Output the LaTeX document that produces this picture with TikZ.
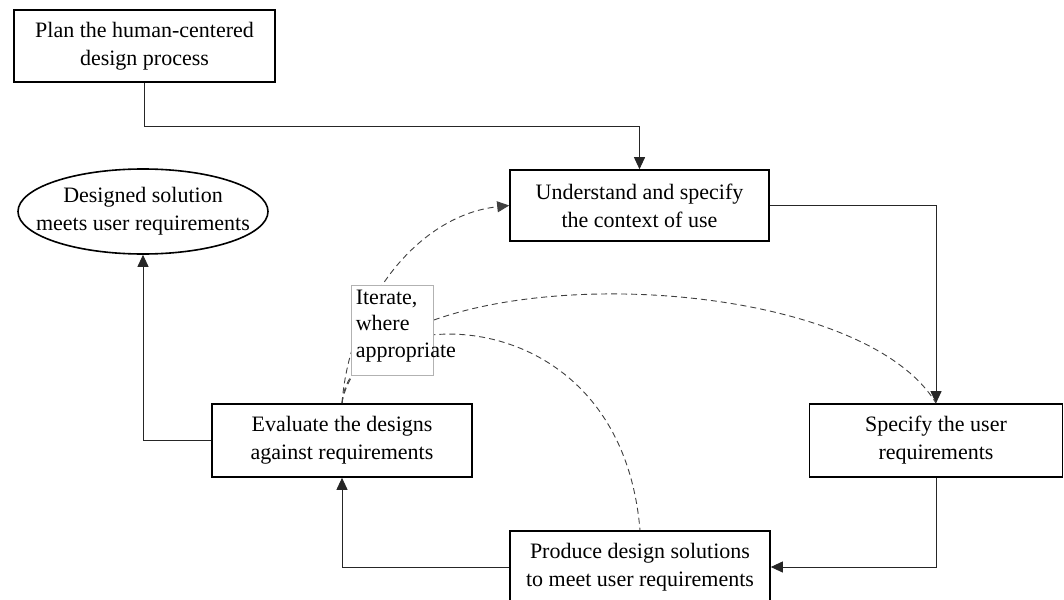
\documentclass[tikz,border=0pt]{standalone}
\usepackage{fontspec}
\setmainfont{Liberation Serif}
\usetikzlibrary{arrows.meta,shapes.geometric}
\begin{document}
\begin{tikzpicture}[x=1pt,y=-1pt,
 box/.style={draw=black,line width=1.6pt,fill=white,minimum width=260pt,minimum height=72pt,align=center,inner sep=0pt,font=\fontsize{22}{28}\selectfont},
 conn/.style={line width=0.9pt,draw=black!85,-{Triangle[length=12pt,width=11pt]}},
 dashconn/.style={line width=0.9pt,draw=black!75,dash pattern=on 6pt off 4pt},
 txt/.style={align=center,inner sep=0pt,font=\fontsize{22}{28}\selectfont}
]
\useasboundingbox (0,0) rectangle (1064,599);
\node[box,minimum width=261pt] (plan) at (144.5,46) {Plan the human-centered\\design process};
\node[box,minimum width=259pt,minimum height=71pt] (und) at (639.5,205.5) {Understand and specify\\the context of use};
\node[box,minimum width=253pt,minimum height=73pt] (spec) at (936,440.5) {Specify the user\\requirements};
\node[box,minimum height=73pt] (eval) at (342,440.5) {Evaluate the designs\\against requirements};
\node[box] (prod) at (640,567) {Produce design solutions\\to meet user requirements};
\node[ellipse,draw=black,line width=1.6pt,minimum width=250pt,minimum height=85pt,inner sep=0pt] (goal) at (143,211.5) {};
\node[txt] (goaltext) at (goal.center) {Designed solution\\meets user requirements};

\draw[conn] (plan.south) -- ++(0,44) -| (und.north);
\draw[conn] (und.east) -| (spec.north);
\draw[conn] (spec.south) |- (prod.east);
\draw[conn] (prod.west) -| (eval.south);
\draw[conn] (eval.west) -| (goal.south);

\draw[dashconn,-{Triangle[length=12pt,width=11pt]}] (eval.north) .. controls (350,300) and (420,215) .. (und.west);
\draw[dashconn] (eval.north) .. controls (365,255) and (850,260) .. (spec.north);
\draw[dashconn] (eval.north) .. controls (350,300) and (620,290) .. (prod.north);

\node[draw=black!30,fill=white,line width=0.8pt,minimum width=82pt,minimum height=90pt,inner sep=0pt] (itbox) at (392,330) {};
\node[anchor=north west,align=left,inner sep=0pt,font=\fontsize{22}{26.5}\selectfont] (ittext) at ([xshift=5pt,yshift=-5pt]itbox.north west) {Iterate,\\where\\appropriate};
\end{tikzpicture}
\end{document}
